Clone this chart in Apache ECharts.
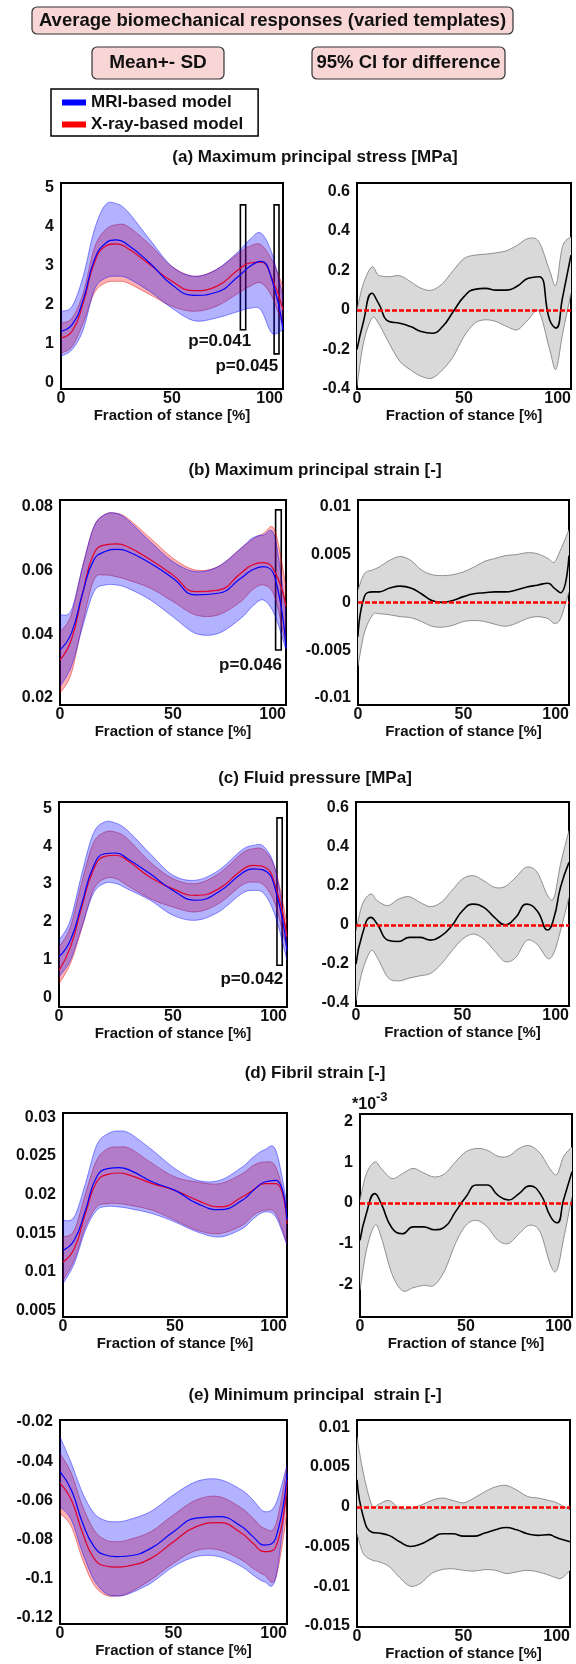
<!DOCTYPE html>
<html><head><meta charset="utf-8">
<script src="https://cdn.jsdelivr.net/npm/echarts@6/dist/echarts.min.js"></script>
<style>html,body{margin:0;padding:0;background:#fff}#c{width:576px;height:1664px}</style>
</head><body><div id="c"></div>
<script>
// ---------- DATA ----------
const xLeft  = [0,5,10,15,20,25,30,40,50,60,70,80,85,90,95,100];
const xRight = [0,3,7,10,15,20,25,30,35,40,45,50,55,60,65,70,75,80,85,90,93,96,100];
const xTicks = [0,50,100];

// (a) Maximum principal stress [MPa]
const aMriMean  = [1.32,1.49,2.13,3.15,3.57,3.66,3.54,3.07,2.51,2.24,2.32,2.73,2.98,3.11,2.64,1.36];
const aXrayMean = [1.15,1.32,2.04,3.07,3.50,3.56,3.45,3.03,2.60,2.36,2.47,2.90,3.07,3.09,2.68,1.87];
const aMriUp    = [1.83,1.96,2.73,3.92,4.56,4.59,4.39,3.67,2.98,2.73,2.90,3.37,3.67,3.84,3.32,2.21];
const aMriLo    = [0.68,0.85,1.36,2.38,2.68,2.73,2.68,2.34,1.91,1.59,1.66,1.83,1.91,1.87,1.27,1.36];
const aXrayUp   = [1.53,1.66,2.30,3.45,3.92,4.05,4.01,3.54,2.98,2.73,2.90,3.32,3.50,3.54,3.15,2.47];
const aXrayLo   = [0.76,0.93,1.53,2.30,2.56,2.60,2.56,2.26,1.96,1.83,1.96,2.30,2.47,2.56,2.21,1.44];
const aDiffMean = [-0.20,-0.06,0.084,0.034,-0.059,-0.067,-0.084,-0.109,-0.118,-0.084,-0.008,0.067,0.104,0.109,0.10,0.10,0.121,0.16,0.168,-0.05,-0.092,0.06,0.277];
const aDiffUp   = [0,0.134,0.218,0.176,0.168,0.173,0.143,0.109,0.10,0.134,0.20,0.26,0.277,0.282,0.289,0.30,0.328,0.361,0.345,0.20,0.126,0.32,0.37];
const aDiffLo   = [-0.387,-0.168,-0.042,-0.067,-0.168,-0.26,-0.303,-0.336,-0.345,-0.303,-0.235,-0.134,-0.067,-0.05,-0.059,-0.084,-0.10,-0.05,-0.008,-0.20,-0.30,-0.126,0.084];
const aLeftTicks  = [0,1,2,3,4,5];
const aRightTicks = [-0.4,-0.2,0,0.2,0.4,0.6];
const aSigBoxes   = [[80.8,83.2,1.36,4.56],[96.0,98.2,0.74,4.56]];
const aSigLabels  = [[71.5,1.06,'p=0.041'],[83.7,0.42,'p=0.045']];

// (b) Maximum principal strain [-]
const bMriMean  = [0.0351,0.0403,0.0529,0.0634,0.0660,0.0667,0.0660,0.0623,0.0576,0.0524,0.0529,0.0576,0.0602,0.0613,0.0581,0.0356];
const bXrayMean = [0.0319,0.0382,0.0529,0.0654,0.0681,0.0684,0.0675,0.0634,0.0586,0.0534,0.0539,0.0592,0.0618,0.0625,0.0597,0.0487];
const bMriUp    = [0.0461,0.0476,0.0613,0.0738,0.0777,0.0780,0.0759,0.0691,0.0628,0.0597,0.0613,0.0670,0.0702,0.0712,0.0707,0.0466];
const bMriLo    = [0.0236,0.0298,0.0424,0.0534,0.0555,0.0555,0.0545,0.0508,0.0455,0.0403,0.0403,0.0450,0.0487,0.0508,0.0461,0.0351];
const bXrayUp   = [0.0408,0.0461,0.0613,0.0738,0.0777,0.0780,0.0764,0.0702,0.0639,0.0602,0.0613,0.0670,0.0698,0.0717,0.0728,0.0550];
const bXrayLo   = [0.0215,0.0277,0.0435,0.0571,0.0586,0.0581,0.0571,0.0545,0.0503,0.0461,0.0461,0.0503,0.0539,0.0555,0.0518,0.0361];
const bDiffMean = [-0.0036,0.0006,0.0011,0.0011,0.0015,0.0017,0.0015,0.0009,0.0002,0.0000,0.0002,0.0006,0.0009,0.0010,0.0011,0.0011,0.0013,0.0016,0.0018,0.0020,0.0015,0.0010,0.0049];
const bDiffUp   = [0.0013,0.0030,0.0034,0.0037,0.0044,0.0048,0.0044,0.0034,0.0029,0.0028,0.0029,0.0032,0.0037,0.0043,0.0046,0.0049,0.0050,0.0052,0.0051,0.0046,0.0042,0.0055,0.0076];
const bDiffLo   = [-0.0067,-0.0032,-0.0013,-0.0012,-0.0013,-0.0015,-0.0016,-0.0020,-0.0025,-0.0026,-0.0024,-0.0020,-0.0019,-0.0020,-0.0023,-0.0025,-0.0022,-0.0017,-0.0015,-0.0017,-0.0022,-0.0017,0.0011];
const bLeftTicks  = [0.02,0.04,0.06,0.08];
const bRightTicks = [-0.01,-0.005,0,0.005,0.01];
const bSigBoxes   = [[95.4,97.9,0.0351,0.0791]];
const bSigLabels  = [[84.3,0.0304,'p=0.046']];

// (c) Fluid pressure [MPa]
const cMriMean  = [1.07,1.51,2.48,3.45,3.80,3.82,3.67,3.27,2.83,2.57,2.79,3.27,3.40,3.36,2.83,1.24];
const cXrayMean = [0.71,1.33,2.39,3.36,3.73,3.76,3.62,3.18,2.87,2.70,2.87,3.36,3.49,3.45,2.92,1.60];
const cMriUp    = [1.51,2.04,3.27,4.33,4.64,4.61,4.42,3.80,3.23,3.10,3.36,3.89,4.02,3.98,3.36,1.60];
const cMriLo    = [0.54,0.98,1.86,2.74,3.02,3.01,2.87,2.57,2.17,2.04,2.26,2.74,2.83,2.74,2.13,0.98];
const cXrayUp   = [1.33,1.86,3.05,4.07,4.37,4.37,4.20,3.58,3.14,3.01,3.27,3.80,3.93,3.89,3.36,1.95];
const cXrayLo   = [0.36,0.89,1.82,2.83,3.14,3.14,2.96,2.61,2.39,2.26,2.48,2.96,3.05,2.96,2.43,1.24];
const cDiffMean = [-0.202,-0.048,0.038,0.003,-0.079,-0.086,-0.065,-0.065,-0.079,-0.057,-0.005,0.072,0.106,0.089,0.038,0,0.038,0.106,0.072,-0.027,0.038,0.192,0.32];
const cDiffUp   = [-0.031,0.106,0.158,0.123,0.098,0.132,0.144,0.115,0.093,0.115,0.175,0.235,0.252,0.226,0.192,0.196,0.244,0.295,0.27,0.149,0.14,0.31,0.484];
const cDiffLo   = [-0.391,-0.237,-0.134,-0.168,-0.271,-0.288,-0.274,-0.262,-0.250,-0.202,-0.134,-0.074,-0.048,-0.074,-0.134,-0.189,-0.168,-0.082,-0.10,-0.173,-0.142,-0.031,0.141];
const cLeftTicks  = [0,1,2,3,4,5];
const cRightTicks = [-0.4,-0.2,0,0.2,0.4,0.6];
const cSigBoxes   = [[95.6,97.9,0.85,4.75]];
const cSigLabels  = [[84.6,0.47,'p=0.042']];

// (d) Fibril strain [-]
const dMriMean  = [0.01277,0.01407,0.01795,0.02227,0.02335,0.02348,0.02313,0.02162,0.02054,0.01882,0.01804,0.01925,0.02054,0.02162,0.02184,0.01666];
const dXrayMean = [0.01126,0.01299,0.01752,0.02162,0.02262,0.02279,0.02249,0.02141,0.02054,0.01925,0.01839,0.01968,0.02063,0.02141,0.02141,0.01623];
const dMriUp    = [0.01666,0.01709,0.02141,0.02637,0.02788,0.02823,0.02788,0.02573,0.02335,0.02184,0.02184,0.02357,0.02486,0.02581,0.02573,0.01882];
const dMriLo    = [0.00845,0.01104,0.01536,0.01795,0.01847,0.01839,0.01817,0.01752,0.01644,0.01515,0.01450,0.01558,0.01687,0.01774,0.01709,0.01342];
const dXrayUp   = [0.01450,0.01536,0.02011,0.02443,0.02594,0.02616,0.02594,0.02400,0.02227,0.02162,0.02141,0.02270,0.02378,0.02421,0.02357,0.01839];
const dXrayLo   = [0.00889,0.01148,0.01579,0.01839,0.01882,0.01882,0.01860,0.01795,0.01666,0.01536,0.01493,0.01601,0.01731,0.01795,0.01752,0.01364];
// right panel in units of 10^-3
const dDiffMean = [-0.92,-0.26,0.23,-0.02,-0.61,-0.76,-0.59,-0.59,-0.66,-0.59,-0.22,0.15,0.44,0.44,0.19,0.07,0.23,0.42,0.23,-0.35,-0.49,0.07,0.77];
const dDiffUp   = [0.07,0.72,1.01,0.85,0.60,0.72,0.85,0.74,0.64,0.72,1.01,1.26,1.34,1.30,1.15,1.15,1.34,1.41,1.22,0.81,0.71,1.14,1.38];
const dDiffLo   = [-2.16,-1.17,-0.55,-0.84,-1.74,-2.16,-2.09,-2.03,-2.03,-1.66,-1.0,-0.55,-0.43,-0.59,-0.92,-1.0,-0.76,-0.55,-0.72,-1.55,-1.64,-0.9,0.15];
const dLeftTicks  = [0.005,0.01,0.015,0.02,0.025,0.03];
const dRightTicks = [-2,-1,0,1,2];

// (e) Minimum principal strain [-]
const eMriMean  = [-0.0453,-0.0547,-0.0717,-0.0836,-0.0879,-0.0887,-0.0884,-0.0845,-0.0760,-0.0691,-0.0683,-0.0734,-0.0785,-0.0828,-0.0794,-0.0462];
const eXrayMean = [-0.0513,-0.0598,-0.0768,-0.0896,-0.0935,-0.0941,-0.0935,-0.0896,-0.0811,-0.0734,-0.0714,-0.0768,-0.0819,-0.0862,-0.0840,-0.0496];
const eMriUp    = [-0.0275,-0.0411,-0.0564,-0.0666,-0.0703,-0.0709,-0.0700,-0.0657,-0.0572,-0.0504,-0.0493,-0.0547,-0.0598,-0.0657,-0.0620,-0.0419];
const eMriLo    = [-0.0632,-0.0700,-0.0870,-0.1006,-0.1074,-0.1088,-0.1078,-0.1023,-0.0938,-0.0887,-0.0887,-0.0938,-0.0981,-0.1015,-0.0998,-0.0547];
const eXrayUp   = [-0.0360,-0.0462,-0.0632,-0.0751,-0.0802,-0.0811,-0.0802,-0.0760,-0.0674,-0.0598,-0.0581,-0.0640,-0.0691,-0.0743,-0.0725,-0.0428];
const eXrayLo   = [-0.0666,-0.0734,-0.0904,-0.1032,-0.1083,-0.1088,-0.1074,-0.1006,-0.0921,-0.0856,-0.0853,-0.0904,-0.0947,-0.0981,-0.0998,-0.0666];
const eDiffMean = [0.0034,-0.0013,-0.0032,-0.0033,-0.0036,-0.0044,-0.0050,-0.0047,-0.0040,-0.0034,-0.0034,-0.0037,-0.0037,-0.0033,-0.0029,-0.0026,-0.0029,-0.0034,-0.0036,-0.0035,-0.0038,-0.0041,-0.0044];
const eDiffUp   = [0.0088,0.0042,0.0002,0.0003,0.0008,-0.0002,-0.0002,0.0002,0.0008,0.0011,0.0008,0.0005,0.0011,0.0019,0.0025,0.0027,0.0021,0.0013,0.0011,0.0008,0.0006,0.0002,-0.0004];
const eDiffLo   = [-0.0034,-0.0059,-0.0067,-0.0069,-0.0075,-0.0089,-0.0100,-0.0096,-0.0084,-0.0079,-0.0078,-0.0080,-0.0081,-0.0079,-0.0080,-0.0084,-0.0082,-0.0080,-0.0082,-0.0086,-0.0089,-0.0090,-0.0080];
const eLeftTicks  = [-0.12,-0.1,-0.08,-0.06,-0.04,-0.02];
const eRightTicks = [-0.015,-0.01,-0.005,0,0.005,0.01];

const panelTitles = ['(a) Maximum principal stress [MPa]','(b) Maximum principal strain [-]','(c) Fluid pressure [MPa]','(d) Fibril strain [-]','(e) Minimum principal  strain [-]'];
const mriName = 'MRI-based model';
const xrayName = 'X-ray-based model';
const xName = 'Fraction of stance [%]';

// ---------- LAYOUT / STYLE ----------
const FONT = '"Liberation Sans", Arial, Helvetica, sans-serif';
const TXT = '#111';
const BLUE = '#0000ff', RED = '#ff0000';
const panels = [
  {title:panelTitles[0], ty:157,
   L:{g:[61,183,222,206], min:-0.16, max:5.12, ticks:aLeftTicks, mri:[aMriMean,aMriLo,aMriUp], xray:[aXrayMean,aXrayLo,aXrayUp], boxes:aSigBoxes, labels:aSigLabels},
   R:{g:[357,183,214,206], min:-0.40, max:0.642, ticks:aRightTicks, d:[aDiffMean,aDiffLo,aDiffUp]}},
  {title:panelTitles[1], ty:470,
   L:{g:[60,500,226,205], min:0.0178, max:0.0822, ticks:bLeftTicks, mri:[bMriMean,bMriLo,bMriUp], xray:[bXrayMean,bXrayLo,bXrayUp], boxes:bSigBoxes, labels:bSigLabels},
   R:{g:[358,500,211,205], min:-0.01075, max:0.01072, ticks:bRightTicks, d:[bDiffMean,bDiffLo,bDiffUp]}},
  {title:panelTitles[2], ty:778,
   L:{g:[59,802,228,205], min:-0.256, max:5.17, ticks:cLeftTicks, mri:[cMriMean,cMriLo,cMriUp], xray:[cXrayMean,cXrayLo,cXrayUp], boxes:cSigBoxes, labels:cSigLabels},
   R:{g:[356,802,213,204], min:-0.417, max:0.63, ticks:cRightTicks, d:[cDiffMean,cDiffLo,cDiffUp]}},
  {title:panelTitles[3], ty:1073,
   L:{g:[63,1113,224,204], min:0.00414, max:0.03056, ticks:dLeftTicks, mri:[dMriMean,dMriLo,dMriUp], xray:[dXrayMean,dXrayLo,dXrayUp], boxes:[], labels:[]},
   R:{g:[360,1114,212,203], min:-2.81, max:2.19, ticks:dRightTicks, d:[dDiffMean,dDiffLo,dDiffUp]}},
  {title:panelTitles[4], ty:1395,
   L:{g:[60,1420,227,204], min:-0.1231, max:-0.019, ticks:eLeftTicks, mri:[eMriMean,eMriLo,eMriUp], xray:[eXrayMean,eXrayLo,eXrayUp], boxes:[], labels:[]},
   R:{g:[357,1420,213,207], min:-0.01513, max:0.01092, ticks:eRightTicks, d:[eDiffMean,eDiffLo,eDiffUp]}}
];

const grids = [], xAxes = [], yAxes = [], series = [], titles = [];
const fmt = v => String(+(+v).toFixed(6));
const pts = (xs, ys) => xs.map((x, i) => [x, ys[i]]);

function addAxes(p) {
  const i = grids.length;
  grids.push({left:p.g[0], top:p.g[1], width:p.g[2], height:p.g[3], show:true, borderColor:'#000', borderWidth:2,
              backgroundColor:'rgba(0,0,0,0)', containLabel:false, outerBoundsMode:'none'});
  xAxes.push({type:'value', gridIndex:i, min:0, max:100,
    axisLine:{show:false}, axisTick:{show:false}, splitLine:{show:false},
    axisLabel:{customValues:xTicks, alignMaxLabel:'right', margin:2, fontSize:16, fontWeight:'bold', fontFamily:FONT, color:TXT},
    name:xName, nameLocation:'middle', nameGap:19,
    nameTextStyle:{fontSize:15, fontWeight:'bold', fontFamily:FONT, color:TXT}});
  yAxes.push({type:'value', gridIndex:i, min:p.min, max:p.max,
    axisLine:{show:false}, axisTick:{show:false}, splitLine:{show:false},
    axisLabel:{customValues:p.ticks, formatter:fmt, margin:7, fontSize:16, fontWeight:'bold', fontFamily:FONT, color:TXT}});
  return i;
}

// Catmull-Rom spline through pixel points -> SVG cubic segments
function spline(P) {
  let d = '';
  for (let i = 0; i < P.length - 1; i++) {
    const p0 = P[i - 1] || P[i], p1 = P[i], p2 = P[i + 1], p3 = P[i + 2] || P[i + 1];
    const c1x = p1[0] + (p2[0] - p0[0]) / 6, c1y = p1[1] + (p2[1] - p0[1]) / 6;
    const c2x = p2[0] - (p3[0] - p1[0]) / 6, c2y = p2[1] - (p3[1] - p1[1]) / 6;
    d += ' C' + c1x.toFixed(2) + ',' + c1y.toFixed(2) + ' ' + c2x.toFixed(2) + ',' + c2y.toFixed(2) + ' ' + p2[0].toFixed(2) + ',' + p2[1].toFixed(2);
  }
  return d;
}

// Filled band between lower and upper arrays, drawn through the axis scales (api.coord)
function band(gi, xs, lo, up, fill, edge, key) {
  series.push({type:'custom', name:key, xAxisIndex:gi, yAxisIndex:gi, silent:true, z:2,
    data:xs.map((x, i) => [x, lo[i], up[i]]),
    encode:{x:0, y:[1, 2]},
    renderItem:function (params, api) {
      if (params.dataIndex !== 0) return null;
      const U = xs.map((x, i) => api.coord([x, up[i]]));
      const L = xs.map((x, i) => api.coord([x, lo[i]])).reverse();
      const mv = p => 'M' + p[0].toFixed(2) + ',' + p[1].toFixed(2);
      const pUp = mv(U[0]) + spline(U);
      const pLo = mv(L[0]) + spline(L);
      const pFill = pUp + ' L' + L[0][0].toFixed(2) + ',' + L[0][1].toFixed(2) + spline(L) + ' Z';
      const cs = params.coordSys;
      return {type:'group',
        clipPath:{type:'rect', shape:{x:cs.x, y:cs.y, width:cs.width, height:cs.height}},
        children:[
          {type:'path', shape:{pathData:pFill}, style:{fill:fill, stroke:null}},
          {type:'path', shape:{pathData:pUp}, style:{fill:null, stroke:edge, lineWidth:0.8}},
          {type:'path', shape:{pathData:pLo}, style:{fill:null, stroke:edge, lineWidth:0.8}}
        ]};
    }});
}

panels.forEach((P, k) => {
  titles.push({text:P.title, left:315, top:P.ty - 10, textAlign:'center', padding:0,
               textStyle:{fontSize:17, fontWeight:'bold', fontFamily:FONT, color:TXT, lineHeight:20}});
  // left: mean +- SD
  const gl = addAxes(P.L);
  band(gl, xLeft, P.L.xray[1], P.L.xray[2], 'rgba(255,0,0,0.3)', 'rgba(220,0,0,0.55)', 'X-ray SD ' + k);
  band(gl, xLeft, P.L.mri[1], P.L.mri[2], 'rgba(0,0,255,0.3)', 'rgba(0,0,255,0.55)', 'MRI SD ' + k);
  series.push({type:'line', name:xrayName, xAxisIndex:gl, yAxisIndex:gl, data:pts(xLeft, P.L.xray[0]), smooth:0.5,
               symbol:'none', color:RED, lineStyle:{color:'#e0002a', width:1.2}, itemStyle:{color:RED}, z:4});
  series.push({type:'line', name:mriName, xAxisIndex:gl, yAxisIndex:gl, data:pts(xLeft, P.L.mri[0]), smooth:0.5,
               symbol:'none', color:BLUE, lineStyle:{color:BLUE, width:1.2}, itemStyle:{color:BLUE}, z:4});
  if (P.L.boxes.length) {
    series.push({type:'scatter', name:'significance ' + k, xAxisIndex:gl, yAxisIndex:gl, silent:true, z:6,
      symbolSize:1, itemStyle:{color:'rgba(0,0,0,0)'},
      data:P.L.labels.map(l => ({value:[l[0], l[1]], name:l[2]})),
      label:{show:true, position:'inside', formatter:'{b}', fontSize:17, fontWeight:'bold', fontFamily:FONT, color:TXT, opacity:1},
      markArea:{silent:true, itemStyle:{color:'rgba(0,0,0,0)', borderColor:'#000', borderWidth:1.6},
        data:P.L.boxes.map(b => [{xAxis:b[0], yAxis:b[2]}, {xAxis:b[1], yAxis:b[3]}])}});
  }
  // right: 95% CI for difference
  const gr = addAxes(P.R);
  band(gr, xRight, P.R.d[1], P.R.d[2], '#d9d9d9', '#777777', 'CI ' + k);
  series.push({type:'line', name:'difference ' + k, xAxisIndex:gr, yAxisIndex:gr, data:pts(xRight, P.R.d[0]), smooth:0.5,
               symbol:'none', lineStyle:{color:'#000', width:1.6}, z:4,
               markLine:{silent:true, symbol:'none', label:{show:false},
                         lineStyle:{color:RED, width:2.5, type:[5,2]}, data:[{yAxis:0}]}});
});

const PINK = '#f9d6d6';
const graphics = [
  {type:'rect', shape:{x:32, y:7, width:481, height:27, r:5}, style:{fill:PINK, stroke:'#333', lineWidth:1.2}},
  {type:'text', x:272.5, y:21, style:{text:'Average biomechanical responses (varied templates)', font:'bold 18.5px ' + FONT,
     fill:TXT, align:'center', verticalAlign:'middle', textAlign:'center', textVerticalAlign:'middle'}},
  {type:'rect', shape:{x:92, y:47, width:132, height:32, r:5}, style:{fill:PINK, stroke:'#333', lineWidth:1.2}},
  {type:'text', x:158, y:63, style:{text:'Mean+- SD', font:'bold 19px ' + FONT,
     fill:TXT, align:'center', verticalAlign:'middle', textAlign:'center', textVerticalAlign:'middle'}},
  {type:'rect', shape:{x:312, y:47, width:193, height:32, r:5}, style:{fill:PINK, stroke:'#333', lineWidth:1.2}},
  {type:'text', x:408.5, y:63, style:{text:'95% CI for difference', font:'bold 18.5px ' + FONT,
     fill:TXT, align:'center', verticalAlign:'middle', textAlign:'center', textVerticalAlign:'middle'}},
  {type:'text', x:352, y:1091, style:{text:'{a|*10}{b|-3}', fill:TXT,
     rich:{a:{fontSize:16, fontWeight:'bold', fontFamily:FONT, lineHeight:22, verticalAlign:'bottom'},
           b:{fontSize:13, fontWeight:'bold', fontFamily:FONT, lineHeight:22, verticalAlign:'top'}}}}
];

const chart = echarts.init(document.getElementById('c'), null, {renderer:'canvas'});
chart.setOption({
  animation:false,
  backgroundColor:'#ffffff',
  textStyle:{fontFamily:FONT},
  title:titles,
  legend:{data:[mriName, xrayName], orient:'vertical', left:51, top:89, padding:[5,15,3,11],
    itemWidth:24, itemHeight:6, itemGap:5, icon:'rect', selectedMode:false,
    borderColor:'#000', borderWidth:1.5, backgroundColor:'#fff',
    textStyle:{fontSize:17, fontWeight:'bold', fontFamily:FONT, color:TXT, lineHeight:17}},
  grid:grids, xAxis:xAxes, yAxis:yAxes, series:series, graphic:graphics
});
</script></body></html>
